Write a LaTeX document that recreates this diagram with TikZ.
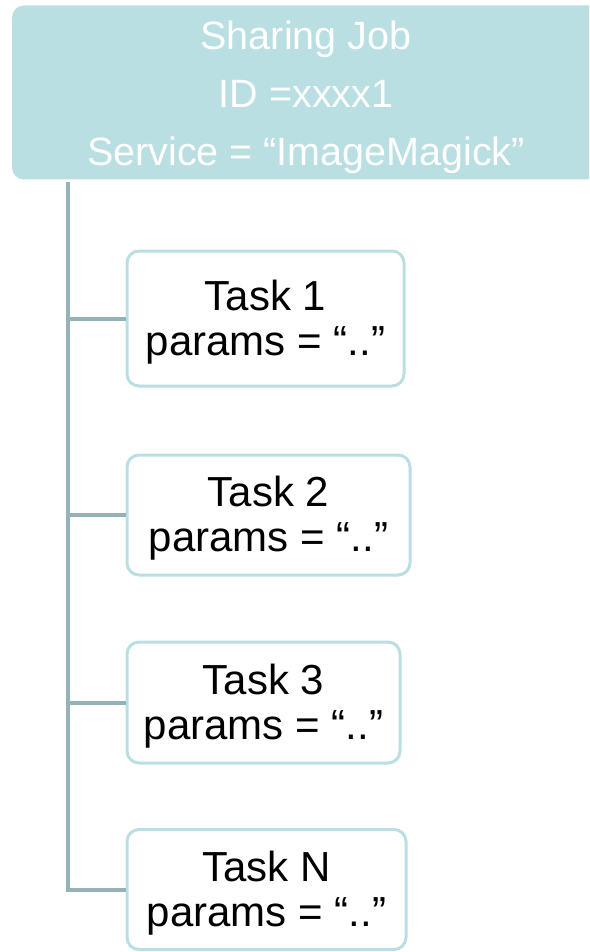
\documentclass[tikz,border=0pt]{standalone}
\usepackage{fontspec}
\setmainfont{Liberation Sans}
\definecolor{jobfill}{HTML}{B9DFE2}
\definecolor{taskedge}{HTML}{B9DFE2}
\definecolor{trunk}{HTML}{95B3B7}
% lines stacked in a box, lowered by #1 without changing its size
\newcommand{\stackedlines}[2]{\raisebox{#1}[\height][\depth]{\begin{tabular}{@{}c@{}}#2\end{tabular}}}
\begin{document}
\begin{tikzpicture}[x=1pt,y=-1pt,
  jobbox/.style={fill=jobfill, draw=none, rounded corners=12pt, inner sep=0pt,
    text=white, align=center, font=\fontsize{39.5}{58}\selectfont},
  taskbox/.style={fill=white, draw=taskedge, line width=3pt, rounded corners=12pt,
    inner sep=0pt, text=black, align=center, font=\fontsize{42}{45}\selectfont},
  branch/.style={draw=trunk, line width=4pt}]
  \useasboundingbox (0,0) rectangle (589,952);
  \clip (0,0) rectangle (589,952);
  % parent job
  \node[jobbox, minimum width=588pt, minimum height=171pt] (job) at (306,92.5)
    {\stackedlines{-3pt}{Sharing Job\\ID =xxxx1\\Service = “ImageMagick”}};
  % child tasks
  \node[taskbox, minimum width=277pt, minimum height=135pt] (t1) at (265.5,318.5)
    {\stackedlines{-5pt}{Task 1\\params = “..”}};
  \node[taskbox, minimum width=283pt, minimum height=120pt] (t2) at (268.5,515)
    {\stackedlines{-5pt}{Task 2\\params = “..”}};
  \node[taskbox, minimum width=273pt, minimum height=121pt] (t3) at (263.5,702.5)
    {\stackedlines{-5pt}{Task 3\\params = “..”}};
  \node[taskbox, minimum width=279pt, minimum height=120pt] (tn) at (266.5,889.5)
    {\stackedlines{-5pt}{Task N\\params = “..”}};
  % tree connectors
  \coordinate (top) at (68,182);
  \draw[branch] (top) |- (tn.west);
  \draw[branch] (top |- t1.west) -- (t1.west);
  \draw[branch] (top |- t2.west) -- (t2.west);
  \draw[branch] (top |- t3.west) -- (t3.west);
\end{tikzpicture}
\end{document}
